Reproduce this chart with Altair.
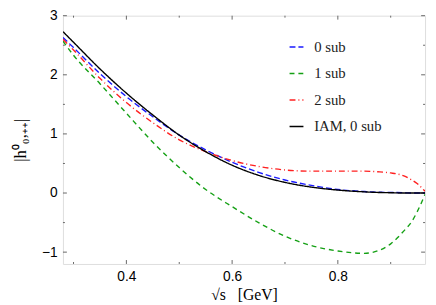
import altair as alt
import pandas as pd

x_vals = [0.28, 0.30, 0.35, 0.40, 0.45, 0.50, 0.55, 0.60, 0.65, 0.70, 0.75, 0.80,
          0.85, 0.875, 0.90, 0.925, 0.94, 0.95, 0.965]
iam0 = [2.73, 2.55, 2.10, 1.69, 1.32, 0.98, 0.70, 0.47, 0.30, 0.18, 0.10, 0.05,
        0.02, 0.01, 0.005, 0.0, 0.0, 0.0, 0.0]
sub0 = [2.63, 2.46, 2.02, 1.63, 1.29, 0.98, 0.73, 0.52, 0.35, 0.22, 0.13, 0.06,
        0.025, 0.015, 0.01, 0.005, 0.0, 0.0, 0.0]
sub2 = [2.60, 2.42, 1.94, 1.53, 1.19, 0.90, 0.70, 0.55, 0.45, 0.39, 0.37, 0.37,
        0.37, 0.36, 0.34, 0.29, 0.22, 0.16, 0.03]
sub1 = [2.57, 2.33, 1.85, 1.35, 0.86, 0.43, 0.06, -0.23, -0.50, -0.73, -0.89, -0.98,
        -1.02, -0.98, -0.86, -0.64, -0.48, -0.32, -0.02]

series_names = ["0 sub", "1 sub", "2 sub", "IAM, 0 sub"]
series_colors = ["#1a1aff", "#14a014", "#ff2020", "#000000"]
series_dash = [[6, 3], [5, 4], [6, 3, 1, 3], [1, 0]]

x_major = [0.4, 0.6, 0.8]
x_minor = [0.3, 0.5, 0.7, 0.9]
y_major = [-1, 0, 1, 2, 3]
y_minor = [-0.5, 0.5, 1.5, 2.5]

X_DOMAIN = [0.28, 0.965]
Y_DOMAIN = [-1.2, 3.0]
W, H = 369, 253

rows = []
for name, vals in zip(series_names, [sub0, sub1, sub2, iam0]):
    for xv, yv in zip(x_vals, vals):
        rows.append({"x": xv, "y": yv, "series": name})
df = pd.DataFrame(rows)

xs = alt.Scale(domain=X_DOMAIN, nice=False, zero=False)
ys = alt.Scale(domain=Y_DOMAIN, nice=False, zero=False)

leg = dict(title=None, orient="none", legendX=230, legendY=24,
           symbolType="stroke", symbolSize=200, symbolStrokeWidth=1.5,
           labelFont="Liberation Serif", labelFontSize=15, labelColor="#222",
           rowPadding=11, labelOffset=10, padding=0)

lines = alt.Chart(df).mark_line(strokeWidth=1.4, interpolate="monotone", clip=True).encode(
    x=alt.X("x:Q", scale=xs,
            axis=alt.Axis(values=x_major, format=".1f", ticks=False, domain=False,
                          grid=False, labelFont="Liberation Sans", labelFontSize=14,
                          labelColor="black", labelPadding=6,
                          title="√s\u00a0\u00a0\u00a0[GeV]", titleFont="Liberation Serif",
                          titleFontSize=16, titleFontWeight="normal", titleColor="black",
                          titlePadding=3)),
    y=alt.Y("y:Q", scale=ys,
            axis=alt.Axis(values=y_major, format="d", ticks=False, domain=False,
                          grid=False, labelFont="Liberation Sans", labelFontSize=14,
                          labelColor="black", labelPadding=6,
                          title="|h⁰₀,₊₊|", titleFont="Liberation Serif",
                          titleFontSize=17, titleFontWeight="normal", titleColor="black",
                          titlePadding=12)),
    color=alt.Color("series:N", scale=alt.Scale(domain=series_names, range=series_colors),
                    legend=alt.Legend(**leg)),
    strokeDash=alt.StrokeDash("series:N",
                              scale=alt.Scale(domain=series_names, range=series_dash),
                              legend=alt.Legend(**leg)),
    order=alt.Order("x:Q"),
)

tick_color = "#666"

def xticks(vals, length, top):
    d = pd.DataFrame({"t": vals})
    if top:
        yy, yy2 = alt.value(0), alt.value(length)
    else:
        yy, yy2 = alt.value(H), alt.value(H - length)
    return alt.Chart(d).mark_rule(color=tick_color, strokeWidth=1).encode(
        x=alt.X("t:Q", scale=xs), y=yy, y2=yy2)

def yticks(vals, length, right):
    d = pd.DataFrame({"t": vals})
    if right:
        xx, xx2 = alt.value(W), alt.value(W - length)
    else:
        xx, xx2 = alt.value(0), alt.value(length)
    return alt.Chart(d).mark_rule(color=tick_color, strokeWidth=1).encode(
        y=alt.Y("t:Q", scale=ys), x=xx, x2=xx2)

ticks = [
    xticks(x_major, 4, False), xticks(x_minor, 2, False),
    xticks(x_major, 4, True), xticks(x_minor, 2, True),
    yticks(y_major, 4, False), yticks(y_minor, 2, False),
    yticks(y_major, 4, True), yticks(y_minor, 2, True),
]

chart = alt.layer(*ticks, lines).properties(
    width=W, height=H,
    autosize=alt.AutoSizeParams(type="none"),
    padding={"left": 56, "top": 5, "right": 3, "bottom": 40},
).configure_view(stroke="black", strokeWidth=1.3).configure(background="white")

chart.save("out.html", embed_options={"renderer": "svg", "actions": False})
